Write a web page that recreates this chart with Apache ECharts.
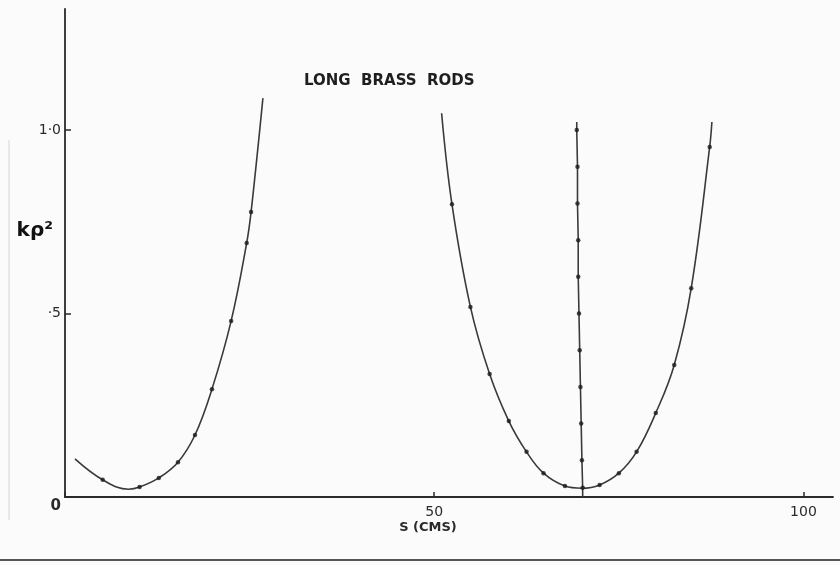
<!DOCTYPE html>
<html>
<head>
<meta charset="utf-8">
<script src="https://cdn.jsdelivr.net/npm/echarts@6/dist/echarts.min.js"></script>
<style>
html,body{margin:0;padding:0;background:#fbfbfb;}
#c{width:840px;height:565px;}
</style>
</head>
<body>
<div id="c"></div>
<script>
// Left curve (S in cms, k*rho^2); dot flag = plotted point (1) or curve end (0)
const leftS   = [1.35, 5.1, 8.6, 10.1, 12.7, 15.3, 17.6, 19.9, 22.5, 24.6, 25.2, 26.8];
const leftK   = [0.104, 0.047, 0.021, 0.027, 0.052, 0.095, 0.169, 0.294, 0.480, 0.692, 0.777, 1.087];
const leftDot = [0, 1, 0, 1, 1, 1, 1, 1, 1, 1, 1, 0];

// Right U-shaped curve
const rightS   = [51.0, 52.4, 54.9, 57.5, 60.1, 62.5, 64.8, 67.7, 70.0, 72.4, 75.0, 77.4, 80.0, 82.5, 84.8, 87.3, 87.6];
const rightK   = [1.046, 0.798, 0.518, 0.335, 0.207, 0.123, 0.065, 0.030, 0.024, 0.033, 0.065, 0.123, 0.229, 0.360, 0.569, 0.954, 1.022];
const rightDot = [0, 1, 1, 1, 1, 1, 1, 1, 0, 1, 1, 1, 1, 1, 1, 1, 0];

// Near-vertical line
const vertS   = [69.3, 69.3, 69.4, 69.4, 69.5, 69.5, 69.6, 69.7, 69.8, 69.9, 70.0, 70.1, 70.1];
const vertK   = [1.022, 1.0, 0.9, 0.8, 0.7, 0.6, 0.5, 0.4, 0.3, 0.2, 0.1, 0.025, 0.0];
const vertDot = [0, 1, 1, 1, 1, 1, 1, 1, 1, 1, 1, 1, 0];

const xTicks = {0: '', 50: '50', 100: '100'};
const yTicks = {0: '{z|0}', 0.5: '·5', 1: '1·0'};

const FONT = 'DejaVu Sans';
const INK = '#2a2a2a';

function lineData(xs, ys) { return xs.map((x, i) => [x, ys[i]]); }
function dotData(xs, ys, f) { return xs.map((x, i) => [x, ys[i]]).filter((_, i) => f[i]); }

function curve(xs, ys, smooth) {
  return {
    type: 'line', data: lineData(xs, ys), smooth: smooth ? 0.4 : false,
    showSymbol: false, symbol: 'none',
    lineStyle: {color: '#3a3a3a', width: 1.6}, z: 2, silent: true
  };
}
function dots(xs, ys, f) {
  return {
    type: 'scatter', data: dotData(xs, ys, f), symbol: 'circle', symbolSize: 4.5,
    itemStyle: {color: '#1a1a1a'}, z: 3, silent: true
  };
}

const chart = echarts.init(document.getElementById('c'), null, {renderer: 'canvas'});
chart.setOption({
  animation: false,
  backgroundColor: '#fbfbfb',
  title: {
    text: 'LONG  BRASS  RODS', left: 299, top: 69,
    textStyle: {fontFamily: FONT, fontSize: 15, fontWeight: 'bold', color: '#1e1e1e'}
  },
  grid: {left: 65, right: 7, top: 9, bottom: 68, containLabel: false, outerBoundsMode: 'none'},
  xAxis: {
    type: 'value', min: 0, max: 104, interval: 50,
    name: 'S (CMS)', nameLocation: 'middle', nameGap: 24, nameMoveOverlap: false,
    nameTextStyle: {fontFamily: FONT, fontSize: 13, fontWeight: 'bold', color: INK, padding: [0, 42, 0, 0]},
    axisLine: {show: true, lineStyle: {color: INK, width: 1.8}},
    axisTick: {show: true, inside: true, length: 5, lineStyle: {color: INK, width: 1.5}},
    axisLabel: {
      fontFamily: FONT, fontSize: 14, color: INK, margin: 8, showMaxLabel: false,
      formatter: v => xTicks[v] !== undefined ? xTicks[v] : ''
    },
    splitLine: {show: false}
  },
  yAxis: {
    type: 'value', min: 0, max: 1.33, interval: 0.5,
    name: 'kρ²', nameLocation: 'middle', nameGap: 12, nameRotate: 0, nameMoveOverlap: false,
    nameTextStyle: {fontFamily: FONT, fontSize: 20, fontWeight: 'bold', color: '#111', verticalAlign: 'bottom', padding: [0, 0, 12, 0]},
    axisLine: {show: true, lineStyle: {color: INK, width: 1.8}},
    axisTick: {show: true, inside: true, length: 6, lineStyle: {color: INK, width: 1.5}},
    axisLabel: {
      fontFamily: FONT, fontSize: 14, color: INK, margin: 4, showMaxLabel: false,
      formatter: v => yTicks[v] !== undefined ? yTicks[v] : '',
      rich: {z: {fontFamily: FONT, fontSize: 15, fontWeight: 'bold', color: INK, padding: [18, 0, 0, 0]}}
    },
    splitLine: {show: false}
  },
  graphic: [
    {type: 'line', shape: {x1: 0, y1: 560, x2: 840, y2: 560}, style: {stroke: '#555', lineWidth: 2}, silent: true},
    {type: 'line', shape: {x1: 9, y1: 140, x2: 9, y2: 520}, style: {stroke: '#e2e2e2', lineWidth: 1.5}, silent: true}
  ],
  series: [
    curve(leftS, leftK, true), dots(leftS, leftK, leftDot),
    curve(rightS, rightK, true), dots(rightS, rightK, rightDot),
    curve(vertS, vertK, false), dots(vertS, vertK, vertDot)
  ]
});
</script>
</body>
</html>
